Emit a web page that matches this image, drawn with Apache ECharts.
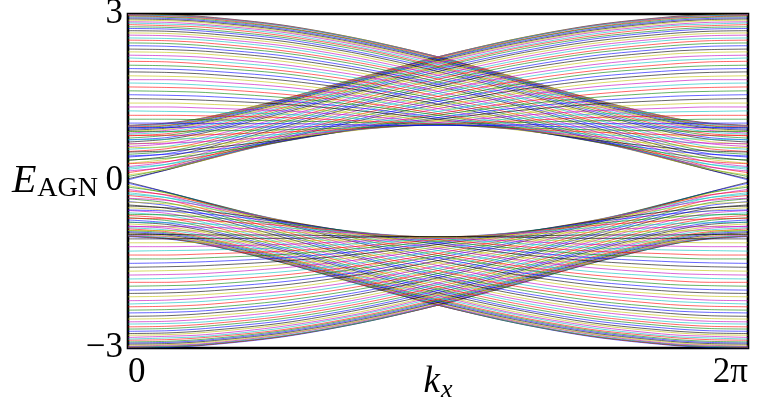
<!DOCTYPE html>
<html>
<head>
<meta charset="utf-8">
<script src="https://cdn.jsdelivr.net/npm/echarts@6/dist/echarts.min.js"></script>
<style>
  html, body { margin: 0; padding: 0; background: #fff; }
  #chart { width: 760px; height: 408px; }
</style>
</head>
<body>
<div id="chart"></div>
<script>
// k_x sample points, in units of pi
const kxOverPi = [0, 0.125, 0.25, 0.5, 0.75, 1, 1.25, 1.5, 1.75, 1.875, 2];

// Positive-energy subbands of the ribbon (one row per transverse mode),
// sampled at kxOverPi. The partner mode is the same row run backwards in k_x,
// and the hole branch is the same curve at negative energy.
const bandUpper = [
  [3.00, 2.99, 2.95, 2.80, 2.55, 2.23, 1.86, 1.47, 1.14, 1.04, 1.00],
  [2.99, 2.98, 2.94, 2.79, 2.55, 2.23, 1.86, 1.47, 1.14, 1.03, 0.99],
  [2.99, 2.97, 2.94, 2.79, 2.54, 2.23, 1.85, 1.46, 1.13, 1.03, 0.99],
  [2.98, 2.97, 2.93, 2.78, 2.54, 2.22, 1.84, 1.45, 1.12, 1.02, 0.98],
  [2.97, 2.95, 2.92, 2.76, 2.52, 2.21, 1.83, 1.44, 1.11, 1.00, 0.97],
  [2.95, 2.94, 2.90, 2.75, 2.51, 2.19, 1.82, 1.43, 1.10, 0.99, 0.95],
  [2.93, 2.92, 2.88, 2.73, 2.49, 2.18, 1.81, 1.42, 1.08, 0.97, 0.93],
  [2.91, 2.90, 2.86, 2.71, 2.47, 2.16, 1.79, 1.40, 1.06, 0.95, 0.91],
  [2.89, 2.88, 2.84, 2.69, 2.45, 2.14, 1.77, 1.38, 1.04, 0.93, 0.89],
  [2.86, 2.85, 2.81, 2.67, 2.43, 2.12, 1.75, 1.36, 1.02, 0.91, 0.86],
  [2.84, 2.82, 2.79, 2.64, 2.40, 2.09, 1.72, 1.33, 0.99, 0.88, 0.84],
  [2.81, 2.79, 2.76, 2.61, 2.38, 2.06, 1.70, 1.31, 0.96, 0.85, 0.81],
  [2.77, 2.76, 2.72, 2.58, 2.35, 2.04, 1.67, 1.28, 0.93, 0.82, 0.77],
  [2.74, 2.73, 2.69, 2.55, 2.31, 2.01, 1.64, 1.25, 0.90, 0.78, 0.74],
  [2.70, 2.69, 2.65, 2.51, 2.28, 1.97, 1.61, 1.22, 0.87, 0.75, 0.70],
  [2.66, 2.65, 2.61, 2.47, 2.24, 1.94, 1.58, 1.19, 0.83, 0.71, 0.66],
  [2.62, 2.61, 2.57, 2.43, 2.20, 1.90, 1.54, 1.15, 0.79, 0.67, 0.62],
  [2.57, 2.56, 2.53, 2.39, 2.16, 1.86, 1.51, 1.12, 0.75, 0.62, 0.57],
  [2.53, 2.52, 2.48, 2.34, 2.12, 1.83, 1.47, 1.08, 0.71, 0.58, 0.53],
  [2.48, 2.47, 2.43, 2.30, 2.08, 1.78, 1.43, 1.05, 0.67, 0.53, 0.48],
  [2.43, 2.42, 2.38, 2.25, 2.03, 1.74, 1.39, 1.01, 0.63, 0.49, 0.43],
  [2.37, 2.36, 2.33, 2.20, 1.99, 1.70, 1.36, 0.97, 0.59, 0.44, 0.37],
  [2.32, 2.31, 2.28, 2.15, 1.94, 1.66, 1.32, 0.94, 0.55, 0.39, 0.32],
  [2.26, 2.25, 2.22, 2.09, 1.89, 1.61, 1.28, 0.90, 0.51, 0.34, 0.26],
  [2.21, 2.19, 2.16, 2.04, 1.84, 1.57, 1.24, 0.86, 0.47, 0.30, 0.21],
  [2.15, 2.14, 2.10, 1.98, 1.79, 1.52, 1.20, 0.83, 0.44, 0.26, 0.15],
  [2.08, 2.07, 2.04, 1.93, 1.73, 1.47, 1.16, 0.80, 0.41, 0.22, 0.08],
  [2.02, 2.01, 1.98, 1.87, 1.68, 1.43, 1.12, 0.77, 0.39, 0.20, 0.02],
  [1.96, 1.95, 1.92, 1.81, 1.63, 1.38, 1.09, 0.75, 0.38, 0.20, 0.04],
  [1.89, 1.88, 1.86, 1.75, 1.57, 1.34, 1.05, 0.73, 0.38, 0.21, 0.11],
  [1.82, 1.82, 1.79, 1.69, 1.52, 1.30, 1.02, 0.72, 0.40, 0.25, 0.18],
  [1.76, 1.75, 1.72, 1.63, 1.47, 1.25, 1.00, 0.71, 0.42, 0.30, 0.24],
  [1.69, 1.68, 1.66, 1.56, 1.41, 1.21, 0.97, 0.71, 0.45, 0.35, 0.31],
  [1.62, 1.61, 1.59, 1.50, 1.36, 1.18, 0.95, 0.71, 0.49, 0.41, 0.38],
  [1.55, 1.54, 1.52, 1.44, 1.31, 1.14, 0.94, 0.72, 0.54, 0.48, 0.45],
  [1.48, 1.47, 1.45, 1.38, 1.26, 1.11, 0.93, 0.74, 0.59, 0.54, 0.52],
  [1.40, 1.40, 1.38, 1.32, 1.21, 1.08, 0.92, 0.77, 0.65, 0.61, 0.60],
  [1.33, 1.33, 1.31, 1.26, 1.17, 1.05, 0.93, 0.80, 0.71, 0.68, 0.67],
  [1.26, 1.25, 1.24, 1.20, 1.12, 1.03, 0.93, 0.84, 0.77, 0.75, 0.74],
  [1.18, 1.18, 1.17, 1.14, 1.08, 1.02, 0.94, 0.88, 0.83, 0.82, 0.82],
  [1.11, 1.11, 1.10, 1.08, 1.05, 1.01, 0.96, 0.92, 0.90, 0.89, 0.89],
  [1.04, 1.04, 1.03, 1.03, 1.01, 1.00, 0.99, 0.97, 0.97, 0.96, 0.96]
];

// y tick values and the x tick labels
const yTicks = [-3, 0, 3];
const xTickLabels = { 0: '0', 2: '2π' };

// classic b, g, r, c, m, y, k line cycle
const lineCycle = ['#0000ff', '#008000', '#ff0000', '#00bfbf', '#bf00bf', '#bfbf00', '#000000'];

const nModes = bandUpper.length;
const series = [];

function addLine(values, reversed, sign, color) {
  const pts = kxOverPi.map((k, i) => {
    const v = reversed ? values[values.length - 1 - i] : values[i];
    return [k, sign * v];
  });
  series.push({
    type: 'line',
    data: pts,
    showSymbol: false,
    symbol: 'none',
    smooth: 0.3,
    silent: true,
    animation: false,
    lineStyle: { width: 0.75, color: color, opacity: 0.8 }
  });
}

// hole branches (negative energies) first, then electron branches
bandUpper.forEach((row, q) => {
  const c = lineCycle[q % 7];
  addLine(row, false, -1, c);
  addLine(row, true, -1, c);
});
bandUpper.forEach((row, q) => {
  const c = lineCycle[(2 * nModes - 1 - q) % 7];
  addLine(row, false, 1, c);
  addLine(row, true, 1, c);
});

const serifFont = '"Liberation Serif", "DejaVu Serif", serif';

const chart = echarts.init(document.getElementById('chart'), null, { renderer: 'canvas' });
chart.setOption({
  animation: false,
  backgroundColor: '#ffffff',
  grid: {
    left: 128, right: 12, top: 14, bottom: 60,
    outerBoundsMode: 'none',
    containLabel: false,
    show: true, borderColor: '#000', borderWidth: 2.6,
    backgroundColor: 'transparent'
  },
  xAxis: {
    type: 'value',
    min: 0, max: 2, interval: 2,
    axisLine: { show: false },
    axisTick: { show: false },
    splitLine: { show: false },
    axisLabel: {
      margin: 7,
      color: '#000',
      fontFamily: serifFont,
      fontSize: 35,
      alignMinLabel: 'left',
      alignMaxLabel: 'right',
      formatter: v => xTickLabels[v] ?? ''
    },
    name: '{k|k}{x|x}',
    nameLocation: 'middle',
    nameMoveOverlap: false,
    nameGap: 13,
    nameTextStyle: {
      rich: {
        k: { fontFamily: serifFont, fontStyle: 'italic', fontSize: 37, color: '#000', lineHeight: 42 },
        x: { fontFamily: serifFont, fontStyle: 'italic', fontSize: 26, color: '#000', padding: [16, 0, 0, 1] }
      }
    }
  },
  yAxis: {
    type: 'value',
    min: yTicks[0], max: yTicks[yTicks.length - 1], interval: 3,
    axisLine: { show: false },
    axisTick: { show: false },
    splitLine: { show: false },
    axisLabel: {
      margin: 5,
      color: '#000',
      fontFamily: serifFont,
      fontSize: 35,
      formatter: v => (v < 0 ? '\u2212' + Math.abs(v) : String(v))
    },
    name: '{e|E}{s|AGN}',
    nameLocation: 'middle',
    nameMoveOverlap: false,
    nameRotate: 0,
    nameGap: 30,
    nameTextStyle: {
      rich: {
        e: { fontFamily: serifFont, fontStyle: 'italic', fontSize: 40, color: '#000', lineHeight: 44 },
        s: { fontFamily: serifFont, fontSize: 28, color: '#000', padding: [16, 0, 0, 1] }
      }
    }
  },
  series: series
});
</script>
</body>
</html>
